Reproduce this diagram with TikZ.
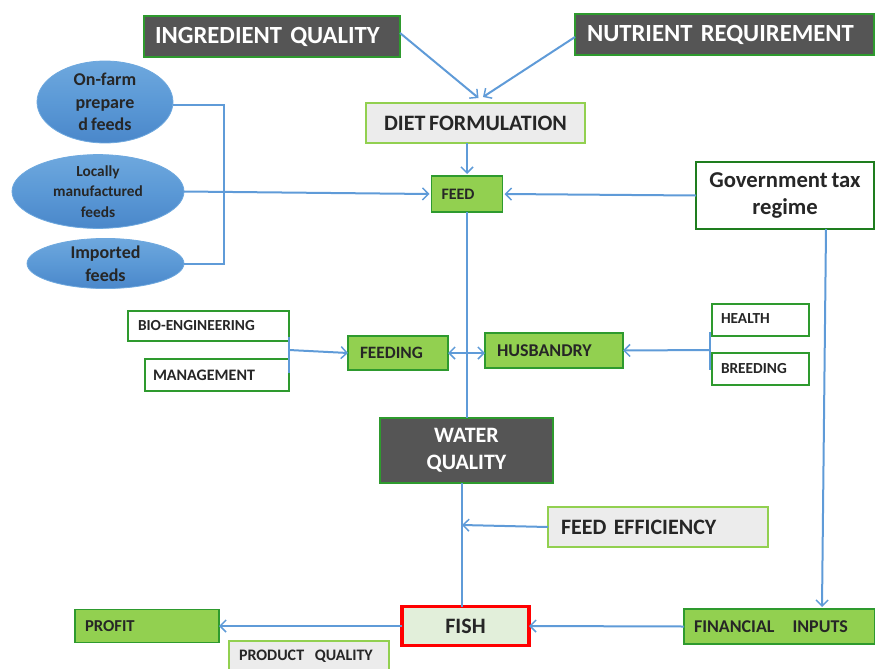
\documentclass[tikz,border=0pt]{standalone}
\usepackage{fontspec}
\setmainfont{Carlito}[WordSpace=0.75]
\usetikzlibrary{arrows.meta,calc,shapes.geometric}
\newdimen\pxu \pxu=0.75pt
\definecolor{linkblue}{HTML}{5F9BD8}
\definecolor{darkfill}{HTML}{555555}
\definecolor{boxgreen}{HTML}{92D050}
\definecolor{edgegreen}{HTML}{2E9A2E}
\definecolor{deepgreen}{HTML}{1E7D1E}
\definecolor{lightfill}{HTML}{ECECEC}
\definecolor{fishfill}{HTML}{E2EFDA}
\definecolor{ellipsetop}{HTML}{6EA8DE}
\definecolor{ellipsemid}{HTML}{5B99D6}
\definecolor{ellipsebot}{HTML}{4A87CA}
\begin{document}
\begin{tikzpicture}[x=0.75pt,y=-0.75pt,
  every node/.style={font=\bfseries, inner sep=0pt, outer sep=0pt},
  % boxes given by width and height in px
  sized/.style 2 args={minimum width=#1\pxu, minimum height=#2\pxu},
  darkbox/.style={rectangle, fill=darkfill, draw=edgegreen, line width=1.6pt, text=white},
  greenbox/.style={rectangle, fill=boxgreen, draw=edgegreen, line width=1.3pt, text=black!85},
  whitebox/.style={rectangle, fill=white, draw=edgegreen, line width=1.3pt, text=black!85},
  greybox/.style={rectangle, fill=lightfill, draw=boxgreen, line width=2.2pt, text=black!85},
  fishbox/.style={rectangle, fill=fishfill, draw=red, line width=2.6pt, text=black!85},
  govbox/.style={rectangle, fill=white, draw=deepgreen, line width=2.2pt, text=black!85},
  feedsrc/.style={ellipse, draw=ellipsetop, line width=0.6pt,
                  top color=ellipsetop, bottom color=ellipsebot, middle color=ellipsemid,
                  text=black!85, align=center},
  link/.style={draw=linkblue, line width=1.5pt},
  arr/.style={link, -{Straight Barb[length=4.5pt,width=9pt,line width=1.1pt]}},
  biarr/.style={link, {Straight Barb[length=4.5pt,width=9pt,line width=1.1pt]}-{Straight Barb[length=4.5pt,width=9pt,line width=1.1pt]}},
]
\useasboundingbox (0,0) rectangle (875,668);
\begin{scope}
\clip (0,0) rectangle (875,668);

% --- top inputs ---
\node[darkbox, sized={256}{41}, font=\fontsize{18.5pt}{20pt}\bfseries,
      text width=234\pxu, align=left] (ingr) at (272,36.5) {INGREDIENT QUALITY};
\node[darkbox, sized={299}{41}, font=\fontsize{18.5pt}{20pt}\bfseries,
      text width=275\pxu, align=left] (nutr) at (724.5,34.5) {NUTRIENT REQUIREMENT};
\node[greybox, sized={219}{40}, font=\fontsize{16.5pt}{18pt}\bfseries] (diet) at (475.5,123) {DIET FORMULATION};
\node[greenbox, sized={71}{36}, font=\fontsize{12pt}{14pt}\bfseries,
      text width=51\pxu, align=left] (feed) at (467,194) {FEED};
\node[govbox, sized={178}{67}, font=\fontsize{17pt}{20pt}\bfseries, align=center] (gov) at (785,195.5) {Government tax\\regime};

% --- feed sources ---
\node[feedsrc, minimum width=136\pxu, minimum height=72\pxu,
      font=\fontsize{13.5pt}{17pt}\bfseries] (e1) at (105,102) {On-farm\\prepare\\d feeds};
\node[feedsrc, minimum width=172\pxu, minimum height=71\pxu,
      font=\fontsize{11.5pt}{15.5pt}\bfseries] (e2) at (98,191.5) {Locally\\manufactured\\feeds};
\node[feedsrc, minimum width=157\pxu, minimum height=49\pxu,
      font=\fontsize{13.5pt}{17pt}\bfseries] (e3) at (105.5,263.5) {Imported\\feeds};

% --- feeding / husbandry row ---
\node[whitebox, sized={161}{30}, font=\fontsize{11.5pt}{13pt}\bfseries,
      text width=141\pxu, align=left] (bio) at (208.5,326) {BIO-ENGINEERING};
\node[whitebox, sized={144}{32}, font=\fontsize{12pt}{13pt}\bfseries,
      text width=128\pxu, align=left] (mgmt) at (217,375) {MANAGEMENT};
\node[greenbox, sized={100}{34}, font=\fontsize{13pt}{15pt}\bfseries,
      text width=76\pxu, align=left] (feeding) at (398,353) {FEEDING};
\node[greenbox, sized={138}{35}, font=\fontsize{13.5pt}{15pt}\bfseries,
      text width=114\pxu, align=left] (husb) at (554,350.5) {HUSBANDRY};
\node[whitebox, sized={97}{32}, font=\fontsize{11.5pt}{13pt}\bfseries,
      text width=79\pxu, align=left] (health) at (760.5,320) {\raisebox{2\pxu}{HEALTH}};
\node[whitebox, sized={97}{32}, font=\fontsize{11.5pt}{13pt}\bfseries,
      text width=79\pxu, align=left] (breed) at (760.5,369) {\raisebox{2\pxu}{BREEDING}};

% --- water, efficiency, outputs ---
\node[darkbox, sized={173}{65}, font=\fontsize{16.5pt}{20pt}\bfseries, align=center] (water) at (466.5,450.5) {WATER\\QUALITY};
\node[greybox, sized={220}{40}, font=\fontsize{16.5pt}{18pt}\bfseries,
      text width=194\pxu, align=left] (eff) at (658,527) {FEED EFFICIENCY};
\node[fishbox, sized={127}{39}, font=\fontsize{16.5pt}{18pt}\bfseries] (fish) at (465.5,626) {FISH};
\node[greenbox, sized={191}{35}, font=\fontsize{13.5pt}{15pt}\bfseries,
      text width=171\pxu, align=left] (fin) at (779.5,626.5) {FINANCIAL\ \ \ INPUTS};
\node[greenbox, sized={144}{33}, font=\fontsize{12.5pt}{14pt}\bfseries,
      text width=124\pxu, align=left] (profit) at (147,626) {PROFIT};
\node[greybox, sized={160}{31}, font=\fontsize{12pt}{14pt}\bfseries,
      text width=140\pxu, align=left] (prodq) at (309,656.5) {PRODUCT\ \ QUALITY};

% --- junction points of the bracket connectors ---
\coordinate (ebus) at (224,191.5);
\coordinate (hb) at (710,350);
\coordinate (wline) at (462,525);

% --- connectors ---
\draw[arr] (ingr.east) ++(0,-3.5) -- ($(diet.north)+(3,-5)$);
\draw[arr] (nutr.west) ++(0,2.5) -- ($(diet.north)+(7.5,-6)$);
\draw[arr] (feed.north |- diet.south) -- ($(feed.north)+(0,-2)$);
\draw[arr] (gov.west) -- ($(feed.east)+(2,0)$);

\draw[link] ($(e1.east)+(0,3)$) -| (ebus) |- (e3.east);
\draw[arr] (e2.east) -- ($(feed.west)+(-2,0)$);

\draw[link] (feed.south) -- (feed.south |- water.north);

\draw[link] ($(bio.south east)+(0,-4)$) -- ($(mgmt.north east)+(0,14)$);
\draw[arr] ($(bio.south east)!0.5!(mgmt.north east)$) -- (feeding.west);
\draw[biarr] (feeding.east) -- (feeding.east -| husb.west);
\draw[link] ($(hb)+(0,-18)$) -- ($(hb)+(0,20)$);
\draw[arr] (hb) -- (husb.east);

\draw[link] ($(water.south)+(-4.5,0)$) -- ($(fish.north)+(-3.5,0)$);
\draw[arr] (eff.west) -- (wline);
\draw[arr] ($(gov.south)+(41,0)$) -- ($(fin.north)+(42.5,-2)$);
\draw[arr] (fin.west) -- (fish.east);
\draw[arr] (fish.west) -- (profit.east);
\end{scope}
\end{tikzpicture}
\end{document}
